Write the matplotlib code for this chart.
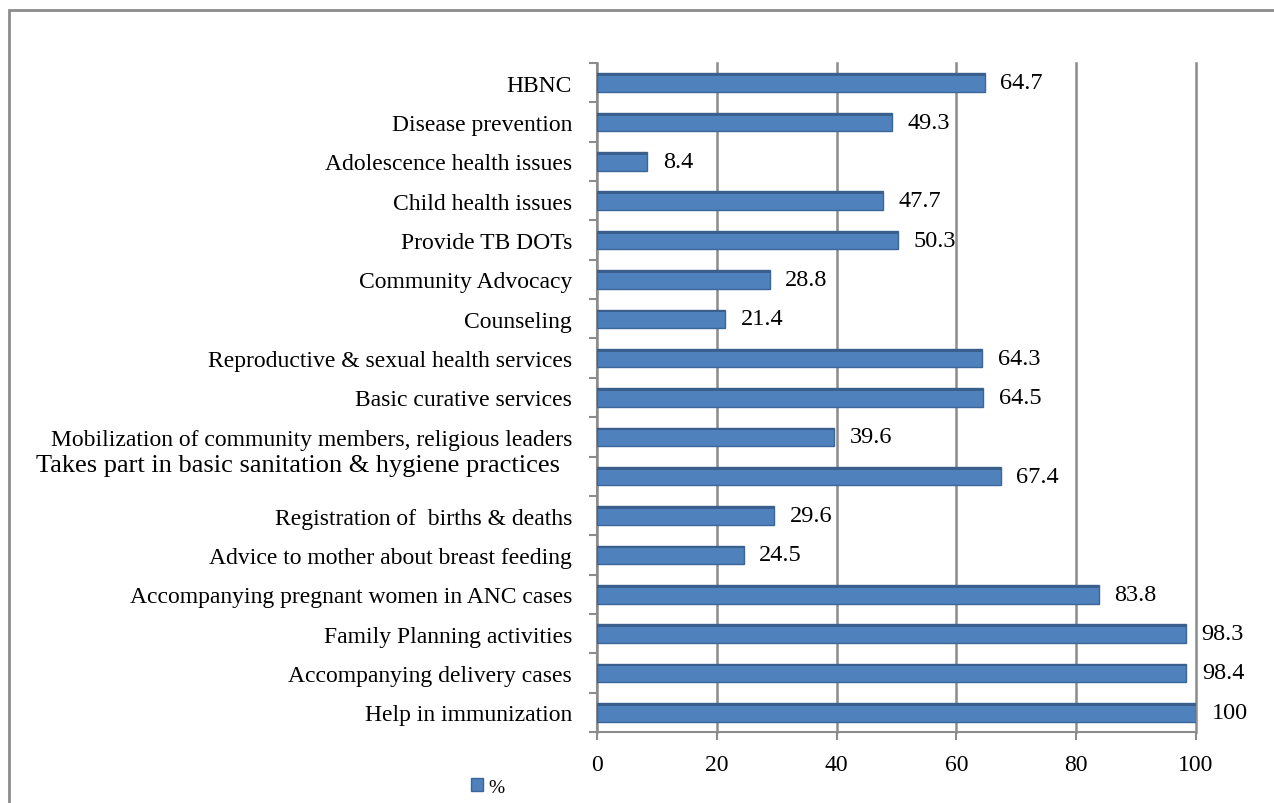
import numpy as np
import matplotlib
matplotlib.use("Agg")
from matplotlib import pyplot as plt
from matplotlib.patches import Rectangle
from matplotlib.transforms import ScaledTranslation

# data, top to bottom as shown
tasks = ["HBNC", "Disease prevention", "Adolescence health issues",
         "Child health issues", "Provide TB DOTs", "Community Advocacy",
         "Counseling", "Reproductive & sexual health services",
         "Basic curative services",
         "Mobilization of community members, religious leaders",
         "Takes part in basic sanitation & hygiene practices",
         "Registration of  births & deaths",
         "Advice to mother about breast feeding",
         "Accompanying pregnant women in ANC cases",
         "Family Planning activities", "Accompanying delivery cases",
         "Help in immunization"]
pct = [64.7, 49.3, 8.4, 47.7, 50.3, 28.8, 21.4, 64.3, 64.5, 39.6, 67.4,
       29.6, 24.5, 83.8, 98.3, 98.4, 100]
xticks = [0, 20, 40, 60, 80, 100]

plt.rcParams['font.family'] = ['Liberation Serif', 'DejaVu Serif']

fig = plt.figure(figsize=(12.74, 8.04), dpi=100)
fig.patches.append(Rectangle((9/1274, -0.05), 1.2, 1 - 11/804 + 0.05,
                             transform=fig.transFigure, fill=False,
                             edgecolor='#8c8c8c', lw=2))

ax = fig.add_axes([597/1274, 71/804, 599/1274, 669/804])
y = np.arange(len(tasks))[::-1]
bars = ax.barh(y, pct, height=0.47, color='#4F81BD', edgecolor='#3B6699',
               lw=1, zorder=3, label='%')
ax.barh(y + 0.2, pct, height=0.07, color='#3A5F8C', lw=0, zorder=4)

for b, v in zip(bars, pct):
    ax.text(b.get_width() + 2.6, b.get_y() + b.get_height() / 2,
            f"{v:g}", va='center', ha='left', fontsize=17.5)

ax.set_xlim(0, 100)
ax.set_ylim(-0.5, len(tasks) - 0.5)
ax.set_xticks(xticks)
ax.set_xticklabels([str(t) for t in xticks], fontsize=17)
ax.set_yticks(y)
ax.set_yticklabels(tasks, fontsize=17)
ax.tick_params(axis='y', length=0, pad=18)
ax.tick_params(axis='x', length=6, color='#8c8c8c', width=1.5, pad=10)
ax.set_yticks(np.arange(len(tasks) + 1) - 0.5, minor=True)
ax.tick_params(axis='y', which='minor', length=6, color='#8c8c8c', width=1.5)

for lbl in ax.get_yticklabels():
    if lbl.get_text().startswith("Takes part"):
        lbl.set_fontsize(19)
        lbl.set_transform(lbl.get_transform() +
                          ScaledTranslation(-0.12, 0.14, fig.dpi_scale_trans))

ax.grid(axis='x', color='#8c8c8c', lw=1.8, zorder=0)
for gl in ax.get_xgridlines():
    gl.set_clip_on(False)
for s in ['top', 'right']:
    ax.spines[s].set_visible(False)
for s in ['left', 'bottom']:
    ax.spines[s].set_color('#8c8c8c')
    ax.spines[s].set_linewidth(1.5)

ax.legend(loc='center', bbox_to_anchor=(488/1274, 16/804),
          bbox_transform=fig.transFigure, frameon=False, fontsize=14,
          handlelength=0.6, handleheight=0.6, handletextpad=0.3)

fig.savefig("out.png", dpi=100)
